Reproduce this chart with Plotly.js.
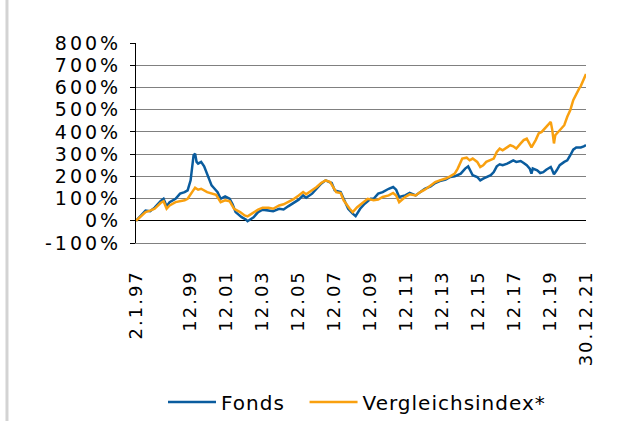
<!DOCTYPE html>
<html>
<head>
<meta charset="utf-8">
<script src="https://cdn.plot.ly/plotly-3.0.1.min.js"></script>
<style>
html,body{margin:0;padding:0;background:#fff;}
svg text{letter-spacing:2px;}
.ytick text{letter-spacing:3px;}
.legendtext{letter-spacing:1px;}
</style>
</head>
<body>
<div id="chart" style="width:619px;height:421px;"></div>
<script>
const fondsDates = ['1997-01-02','1997-03-15','1997-07-15','1997-10-15','1998-01-15','1998-05-15','1998-07-15','1998-09-15','1998-11-15','1999-03-15','1999-06-15','1999-09-15','1999-11-15','2000-01-15','2000-02-15','2000-03-15','2000-04-15','2000-05-15','2000-06-15','2000-08-15','2000-10-15','2000-12-15','2001-01-15','2001-03-15','2001-05-15','2001-07-15','2001-09-15','2001-12-15','2002-03-15','2002-05-15','2002-07-15','2002-11-15','2003-02-15','2003-03-15','2003-07-15','2003-10-15','2004-01-15','2004-05-15','2004-08-15','2004-12-15','2005-03-15','2005-06-15','2005-09-15','2006-01-15','2006-04-15','2006-06-15','2006-10-15','2007-01-15','2007-04-15','2007-07-15','2007-09-15','2007-11-15','2008-01-15','2008-05-15','2008-07-15','2008-10-15','2009-01-15','2009-03-15','2009-06-15','2009-09-15','2010-01-15','2010-03-15','2010-06-15','2010-09-15','2011-01-15','2011-04-15','2011-06-15','2011-08-15','2011-12-15','2012-03-15','2012-07-15','2012-10-15','2013-01-15','2013-05-15','2013-08-15','2013-11-15','2014-03-15','2014-06-15','2014-09-15','2015-01-15','2015-04-15','2015-06-15','2015-07-15','2015-09-15','2015-12-15','2016-02-15','2016-04-15','2016-06-15','2016-09-15','2016-11-15','2017-01-15','2017-03-15','2017-05-15','2017-08-15','2017-10-15','2017-12-15','2018-02-15','2018-05-15','2018-07-15','2018-09-15','2018-11-15','2018-12-20','2019-01-15','2019-04-15','2019-06-15','2019-08-15','2019-10-15','2020-01-15','2020-02-15','2020-03-20','2020-05-15','2020-07-15','2020-10-15','2020-12-15','2021-02-15','2021-04-15','2021-06-15','2021-09-15','2021-11-15','2021-12-30'];
const fondsValues = [0,19,46,43,59,88,99,65,84,99,122,129,137,182,242,295,302,265,257,265,245,212,190,159,144,129,99,110,99,74,39,16,5,-2,16,39,50,46,43,54,51,65,77,95,114,104,122,144,167,182,174,170,137,129,99,54,32,21,54,77,99,99,122,129,144,152,140,107,114,125,114,129,144,155,170,179,185,197,200,212,235,245,230,205,197,182,190,197,205,219,245,254,250,257,265,272,265,269,260,250,235,212,235,227,215,219,230,242,227,209,227,250,265,272,295,320,330,330,335,340];

const indexDates = ['1997-01-02','1997-03-15','1997-07-15','1997-10-15','1998-01-15','1998-05-15','1998-07-15','1998-09-15','1998-11-15','1999-03-15','1999-06-15','1999-09-15','1999-11-15','2000-02-15','2000-04-15','2000-06-15','2000-08-15','2000-12-15','2001-03-15','2001-06-15','2001-09-15','2001-12-15','2002-03-15','2002-06-15','2002-10-15','2003-01-15','2003-03-15','2003-07-15','2003-10-15','2004-01-15','2004-05-15','2004-08-15','2004-12-15','2005-03-15','2005-06-15','2005-09-15','2006-01-15','2006-04-15','2006-06-15','2006-10-15','2007-01-15','2007-04-15','2007-07-15','2007-10-15','2007-12-15','2008-02-15','2008-05-15','2008-07-15','2008-11-15','2009-01-15','2009-04-15','2009-08-15','2009-11-15','2010-03-15','2010-06-15','2010-09-15','2011-01-15','2011-04-15','2011-06-15','2011-08-15','2011-12-15','2012-03-15','2012-07-15','2012-10-15','2013-01-15','2013-05-15','2013-08-15','2013-11-15','2014-03-15','2014-06-15','2014-09-15','2014-11-15','2015-02-15','2015-05-15','2015-07-15','2015-09-15','2015-12-15','2016-02-15','2016-04-15','2016-06-15','2016-09-15','2016-11-15','2017-01-15','2017-03-15','2017-05-15','2017-08-15','2017-10-15','2017-12-15','2018-02-15','2018-05-15','2018-07-15','2018-09-15','2018-11-15','2018-12-20','2019-03-15','2019-05-15','2019-07-15','2019-09-15','2019-11-15','2020-01-15','2020-02-15','2020-03-20','2020-04-15','2020-06-15','2020-08-15','2020-10-15','2020-12-15','2021-02-15','2021-04-15','2021-06-15','2021-08-15','2021-09-15','2021-11-15','2021-12-30'];
const indexValues = [0,14,39,46,54,80,88,54,69,84,88,92,99,129,149,140,144,129,122,117,84,92,88,54,39,24,20,39,50,59,59,54,69,74,84,95,114,129,119,137,152,170,182,174,152,129,125,92,54,39,61,84,99,92,95,107,114,125,114,84,107,119,114,129,140,159,174,182,190,200,212,235,280,284,272,280,265,242,250,265,275,280,310,325,317,330,340,335,325,348,363,370,348,330,363,393,400,415,430,445,408,348,385,400,415,430,468,498,543,573,596,606,633,660];

const tickDates = ['1997-01-02','1999-12-31','2001-12-31','2003-12-31','2005-12-31','2007-12-31','2009-12-31','2011-12-31','2013-12-31','2015-12-31','2017-12-31','2019-12-31','2021-12-30'];
const tickLabels = ['2.1.97','12.99','12.01','12.03','12.05','12.07','12.09','12.11','12.13','12.15','12.17','12.19','30.12.21'];
const yTicks = [-100,0,100,200,300,400,500,600,700,800];
const yLabels = ['-100%','0%','100%','200%','300%','400%','500%','600%','700%','800%'];
const seriesNames = ['Fonds', 'Vergleichsindex*'];

const traces = [
  {x: fondsDates, y: fondsValues, name: seriesNames[0] + '\u00a0\u00a0', type: 'scatter', mode: 'lines',
   line: {color: '#0a5c9e', width: 2.5}},
  {x: indexDates, y: indexValues, name: seriesNames[1], type: 'scatter', mode: 'lines',
   line: {color: '#f9a00f', width: 2.5}}
];

const layout = {
  width: 619, height: 421,
  margin: {l: 136, r: 33, t: 43, b: 178},
  paper_bgcolor: '#ffffff', plot_bgcolor: '#ffffff',
  font: {family: 'DejaVu Sans, Verdana, sans-serif', size: 18, color: '#000000'},
  showlegend: true,
  legend: {orientation: 'h', x: 0.06, xanchor: 'left',
           yref: 'container', y: 0.045, yanchor: 'middle',
           itemwidth: 48,
           font: {size: 20, color: '#000000'}, bgcolor: 'rgba(0,0,0,0)'},
  xaxis: {
    type: 'date', range: ['1997-01-02', '2021-12-30'],
    tickmode: 'array', tickvals: tickDates, ticktext: tickLabels,
    tickangle: -90, showgrid: false, zeroline: false,
    showline: true, linecolor: '#808080', linewidth: 1,
    ticks: '', ticklabelstandoff: 19,
    tickfont: {size: 18, color: '#000000'}
  },
  yaxis: {
    range: [-100, 800], tickmode: 'array', tickvals: yTicks, ticktext: yLabels,
    showgrid: true, gridcolor: '#808080', gridwidth: 1,
    zeroline: true, zerolinecolor: '#000000', zerolinewidth: 1,
    showline: true, linecolor: '#000000', linewidth: 1,
    ticks: 'outside', ticklen: 5, tickcolor: '#000000',
    ticklabelstandoff: 5,
    tickfont: {size: 19, color: '#000000'}
  },
  shapes: [
    {type: 'line', xref: 'paper', yref: 'paper', x0: -0.2867, x1: -0.2867, y0: 1.3, y1: -1.0,
     line: {color: '#d3d3d3', width: 3}}
  ]
};

Plotly.newPlot('chart', traces, layout, {displayModeBar: false, staticPlot: true});
</script>
</body>
</html>
